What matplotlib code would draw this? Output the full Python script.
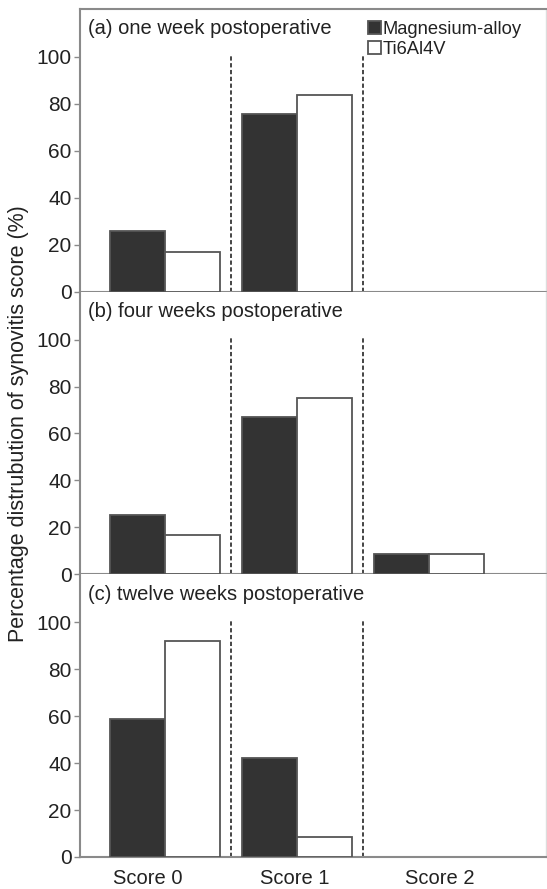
import matplotlib
matplotlib.use('Agg')
import matplotlib.pyplot as plt
import numpy as np

plt.rcParams['font.family'] = ['Liberation Sans', 'DejaVu Sans']

scores = ['Score 0', 'Score 1', 'Score 2']
panel_titles = ['(a) one week postoperative',
                '(b) four weeks postoperative',
                '(c) twelve weeks postoperative']
series_names = ['Magnesium-alloy', 'Ti6Al4V']

# percentages per panel
mg_values = [
    [25.8, 75.7, 0],
    [25.2, 67.1, 8.5],
    [58.9, 42.1, 0],
]
ti_values = [
    [16.8, 83.8, 0],
    [16.7, 75.2, 8.5],
    [92.2, 8.6, 0],
]
yticks = [0, 20, 40, 60, 80, 100]

W, H = 547, 889
fig = plt.figure(figsize=(W / 100, H / 100), dpi=100)

left, right = 80 / W, 546 / W
top, bottom = 1 - 9 / H, 1 - 857 / H
ph = (top - bottom) / 3

x = np.arange(len(scores))
width = 0.417
spine_c = '#8a8a8a'


def nonzero(v):
    # empty categories are not drawn at all in the original
    v = np.asarray(v, dtype=float)
    return np.where(v > 0, v, np.nan)


axes = []
for i in range(3):
    ax = fig.add_axes([left, top - (i + 1) * ph, right - left, ph])
    axes.append(ax)
    ax.bar(x - width / 2, nonzero(mg_values[i]), width, color='#333333', edgecolor='#555555',
           linewidth=1.3, label=series_names[0], zorder=3)
    ax.bar(x + width / 2, nonzero(ti_values[i]), width, color='white', edgecolor='#555555',
           linewidth=1.3, label=series_names[1], zorder=3)
    ax.vlines([0.5, 1.5], 0, 100.5, colors='#444444', linestyles=(0, (2.2, 1.3)), linewidth=1.4)
    ax.set_xlim(-0.644, 2.886)
    ax.set_ylim(0, 120.4)
    ax.set_yticks(yticks)
    ax.tick_params(axis='y', labelsize=15, length=4, width=1, color=spine_c, pad=2,
                   labelcolor='#222222')
    ax.text(0.018, 0.93, panel_titles[i], transform=ax.transAxes, fontsize=14.5,
            va='center', ha='left', color='#222222')
    for s in ['left', 'bottom']:
        ax.spines[s].set_color(spine_c)
        ax.spines[s].set_linewidth(1.5)
    ax.spines['top'].set_color(spine_c)
    ax.spines['top'].set_linewidth(1.5)
    ax.spines['right'].set_color('#dddddd')
    ax.spines['right'].set_linewidth(1)
    if i < 2:
        ax.set_xticks([])
        ax.spines['top'].set_visible(i == 0)
    else:
        ax.spines['top'].set_visible(False)
        ax.set_xticks([-0.13, 0.98, 2.08])
        ax.set_xticklabels(scores, fontsize=14.5, color='#222222')
        ax.tick_params(axis='x', length=0, pad=9)

leg = axes[0].legend(loc='upper right', bbox_to_anchor=(0.968, 0.99), frameon=False,
                     fontsize=13.2, handlelength=0.7, handleheight=0.7,
                     handletextpad=0.1, labelspacing=0.15, borderaxespad=0.1)
for t in leg.get_texts():
    t.set_color('#222222')

fig.text(0.033, (top + bottom) / 2 + 0.01, 'Percentage distrubution of synovitis score (%)',
         rotation=90, va='center', ha='center', fontsize=15.5, color='#222222')

fig.savefig('out.png', dpi=100)
